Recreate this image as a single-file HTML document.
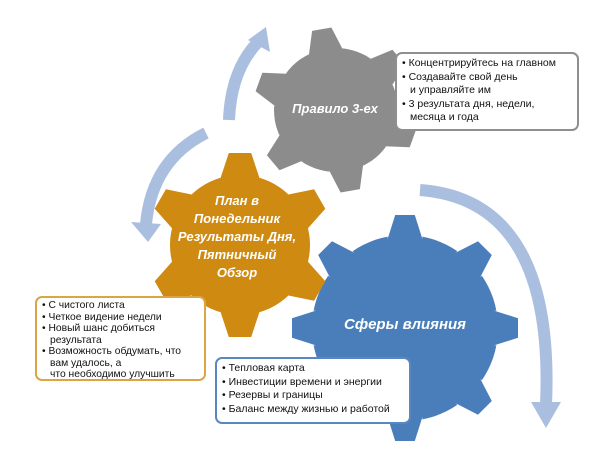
<!DOCTYPE html>
<html><head><meta charset="utf-8"><style>
body{margin:0;width:610px;height:450px;background:#fff;overflow:hidden;font-family:"Liberation Sans",sans-serif;}
svg{position:absolute;left:0;top:0}
.box{position:absolute;background:#fff;border:2px solid;border-radius:7px;font-size:10.5px;line-height:13.5px;color:#111;padding:3px 5px;box-sizing:border-box}
.box div{padding-left:8px;text-indent:-8px}
.lbl{position:absolute;color:#fff;font-weight:bold;font-style:italic;text-align:center}
</style></head><body>
<svg width="610" height="450" id="s">
<g fill="none" stroke="#aabfdf" stroke-width="12">
<path d="M229 120 Q231 70 258 42"/>
<path d="M206 133 Q152 160 146 224"/>
<path d="M420 190 Q555 200 546 405"/>
</g>
<g fill="#aabfdf">
<polygon points="266,27 248,40 270,52"/>
<polygon points="131,222 161,224 148,242"/>
<polygon points="531,402 561,402 546,428"/>
</g>
</svg>
<div class="lbl" style="left:275px;top:101px;width:120px;font-size:13px">Правило 3-ех</div>
<div class="lbl" style="left:172px;top:192px;width:130px;font-size:13px;line-height:18px;color:#fff">План в<br>Понедельник<br>Результаты Дня,<br>Пятничный<br>Обзор</div>
<div class="lbl" style="left:335px;top:316px;width:140px;font-size:15px">Сферы влияния</div>
<div class="box" style="left:395px;top:52px;width:184px;height:79px;border-color:#8f8f8f">
<div>• Концентрируйтесь на главном</div><div>• Создавайте свой день<br>и управляйте им</div><div>• 3 результата дня, недели, месяца и года</div></div>
<div class="box" style="left:35px;top:296px;width:171px;height:85px;border-color:#d9a545;font-size:10.3px;line-height:11.5px;padding-top:2px;white-space:nowrap">
<div>• С чистого листа</div><div>• Четкое видение недели</div><div>• Новый шанс добиться<br>результата</div><div>• Возможность обдумать, что<br>вам удалось, а<br>что необходимо улучшить</div></div>
<div class="box" style="left:215px;top:357px;width:196px;height:67px;border-color:#5b87c0">
<div>• Тепловая карта</div><div>• Инвестиции времени и энергии</div><div>• Резервы и границы</div><div>• Баланс между жизнью и работой</div></div>
<script>
function gear(cx,cy,ri,ro,n,off,tw,col){
 var p=[],a0=off*Math.PI/180;
 for(var i=0;i<n;i++){
  var a=a0+i*2*Math.PI/n,h=tw*0.35,hb=tw*0.62;
  var step=2*Math.PI/n;
  for(var k=0;k<=6;k++){var b=a+hb/ri+(step-2*hb/ri)*k/6;p.push([cx+ri*Math.cos(b),cy+ri*Math.sin(b)]);}
  var c=a+step;
  var ux=Math.cos(c),uy=Math.sin(c),vx=-uy,vy=ux;
  p.push([cx+(ri-4)*ux-hb*vx,cy+(ri-4)*uy-hb*vy]);
  p.push([cx+ro*ux-h*vx,cy+ro*uy-h*vy]);
  p.push([cx+ro*ux+h*vx,cy+ro*uy+h*vy]);
  p.push([cx+(ri-4)*ux+hb*vx,cy+(ri-4)*uy+hb*vy]);
 }
 var e=document.createElementNS("http://www.w3.org/2000/svg","polygon");
 e.setAttribute("points",p.map(function(q){return q[0].toFixed(1)+","+q[1].toFixed(1)}).join(" "));
 e.setAttribute("fill",col);document.getElementById("s").appendChild(e);
}
gear(336,110,62,82,6,-40,28,"#8c8c8c");
gear(405,328,93,113,8,-90,28,"#4a7ebb");
gear(240,245,70,92,6,-90,32,"#cf8a12");
</script>
</body></html>
